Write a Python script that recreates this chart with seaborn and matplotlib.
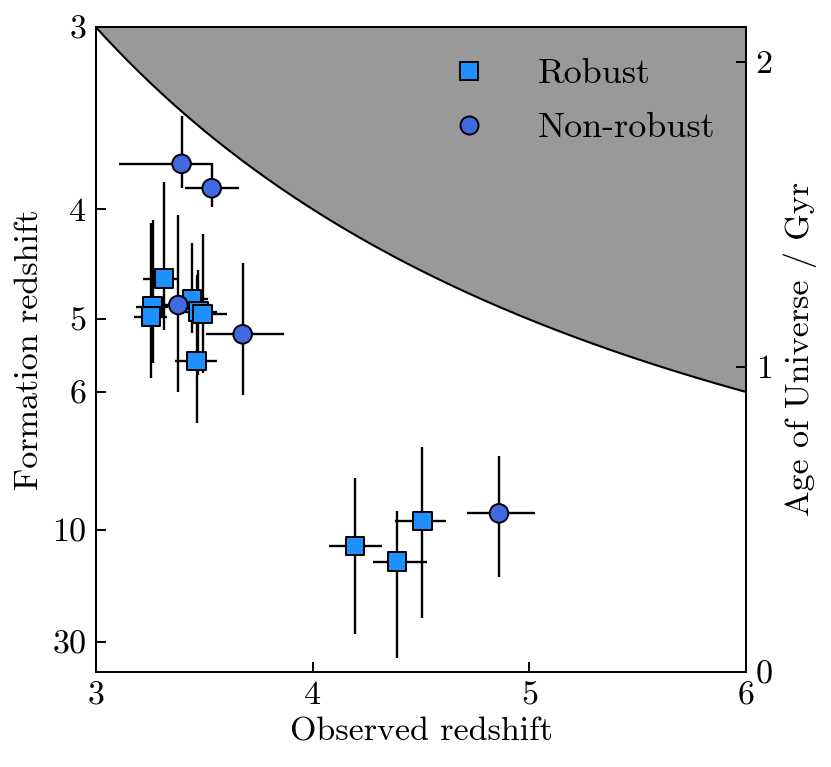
import numpy as np
import pandas as pd
import seaborn as sns
import matplotlib.pyplot as plt
from matplotlib.lines import Line2D

# observed redshift of each galaxy, with lower / upper bounds
z_obs = [3.314, 3.262, 3.254, 3.443, 3.472, 3.492, 3.465, 4.195, 4.390, 4.506,
         3.395, 3.534, 3.380, 3.677, 4.860]
z_obs_lo = [3.218, 3.185, 3.175, 3.388, 3.411, 3.434, 3.365, 4.077, 4.279, 4.380,
            3.104, 3.409, 3.250, 3.510, 4.711]
z_obs_hi = [3.384, 3.332, 3.326, 3.518, 3.557, 3.606, 3.560, 4.318, 4.526, 4.614,
            3.535, 3.659, 3.530, 3.868, 5.026]
# age of the universe at formation (Gyr), with lower / upper bounds
t_form = [1.288, 1.197, 1.164, 1.221, 1.180, 1.173, 1.019, 0.412, 0.361, 0.494,
          1.665, 1.585, 1.202, 1.106, 0.519]
t_form_lo = [1.120, 1.012, 0.963, 1.110, 0.973, 0.979, 0.815, 0.124, 0.044, 0.175,
             1.586, 1.523, 0.918, 0.907, 0.310]
t_form_hi = [1.607, 1.481, 1.471, 1.407, 1.317, 1.435, 1.301, 0.636, 0.528, 0.738,
             1.822, 1.669, 1.497, 1.339, 0.707]
sample = ["Robust"] * 10 + ["Non-robust"] * 5

z_ticks = [3, 4, 5, 6, 10, 30]
age_ticks = [0, 1, 2]

df = pd.DataFrame({"z_obs": z_obs, "z_lo": z_obs_lo, "z_hi": z_obs_hi,
                   "t": t_form, "t_lo": t_form_lo, "t_hi": t_form_hi,
                   "sample": sample})


def age(z, H0=70.0, Om=0.3):
    # flat LCDM age of the universe in Gyr
    OL = 1.0 - Om
    hubble_time = 977.8 / H0
    return (2.0 / (3.0 * np.sqrt(OL)) * hubble_time
            * np.arcsinh(np.sqrt(OL / Om) * (1.0 + np.asarray(z, float)) ** -1.5))


sns.set_style("ticks")
plt.rcParams["font.family"] = "cmr10"
plt.rcParams["mathtext.fontset"] = "cm"
plt.rcParams["axes.formatter.use_mathtext"] = True
plt.rcParams["axes.unicode_minus"] = False
plt.rcParams["axes.linewidth"] = 1.4
for key in ["text.color", "axes.labelcolor", "axes.edgecolor", "xtick.color", "ytick.color"]:
    plt.rcParams[key] = "black"

colors = {"Robust": "#1e90ff", "Non-robust": "#4169e1"}
markers = {"Robust": "s", "Non-robust": "o"}
fs = 24.5

fig = plt.figure(figsize=(8.31, 7.67), dpi=100)
ax = fig.add_axes([0.1155, 0.1243, 0.7822, 0.8401])

t_top = float(age(3))
zz = np.linspace(3, 6, 300)
ax.fill_between(zz, age(zz), t_top, color="#999999", lw=0)
ax.plot(zz, age(zz), color="k", lw=1.5)

ax.errorbar(df["z_obs"], df["t"],
            xerr=[df["z_obs"] - df["z_lo"], df["z_hi"] - df["z_obs"]],
            yerr=[df["t"] - df["t_lo"], df["t_hi"] - df["t"]],
            fmt="none", ecolor="k", elinewidth=1.7, capsize=0, zorder=2)

sns.scatterplot(data=df, x="z_obs", y="t", hue="sample", style="sample",
                palette=colors, markers=markers, s=180, edgecolor="k",
                linewidth=1.4, legend=False, zorder=3, ax=ax)

ax.set_xlim(3, 6)
ax.set_ylim(0, t_top)
ax.set_xticks([3, 4, 5, 6])
ax.set_xticklabels(["3", "4", "5", "6"])
ax.set_yticks(age(z_ticks))
ax.set_yticklabels([str(z) for z in z_ticks])
ax.tick_params(direction="in", length=7, width=1.4, labelsize=fs, pad=7)
ax.set_xlabel("Observed redshift", fontsize=fs, labelpad=5)
ax.set_ylabel("Formation redshift", fontsize=fs, labelpad=6)

ax2 = ax.twinx()
ax2.set_ylim(0, t_top)
ax2.set_yticks(age_ticks)
ax2.set_yticklabels([str(a) for a in age_ticks])
ax2.tick_params(direction="in", length=7, width=1.4, labelsize=fs, pad=7)
ax2.set_ylabel("Age of Universe / Gyr", fontsize=fs, labelpad=8)

handles = [Line2D([], [], ls="none", marker=markers[k], markersize=13,
                  markerfacecolor=colors[k], markeredgecolor="k",
                  markeredgewidth=1.4, label=k) for k in ["Robust", "Non-robust"]]
ax.legend(handles=handles, loc="upper right", frameon=False, fontsize=26,
          handletextpad=0.9, labelspacing=0.6, borderaxespad=0.45)

fig.savefig("out.png", dpi=100)
